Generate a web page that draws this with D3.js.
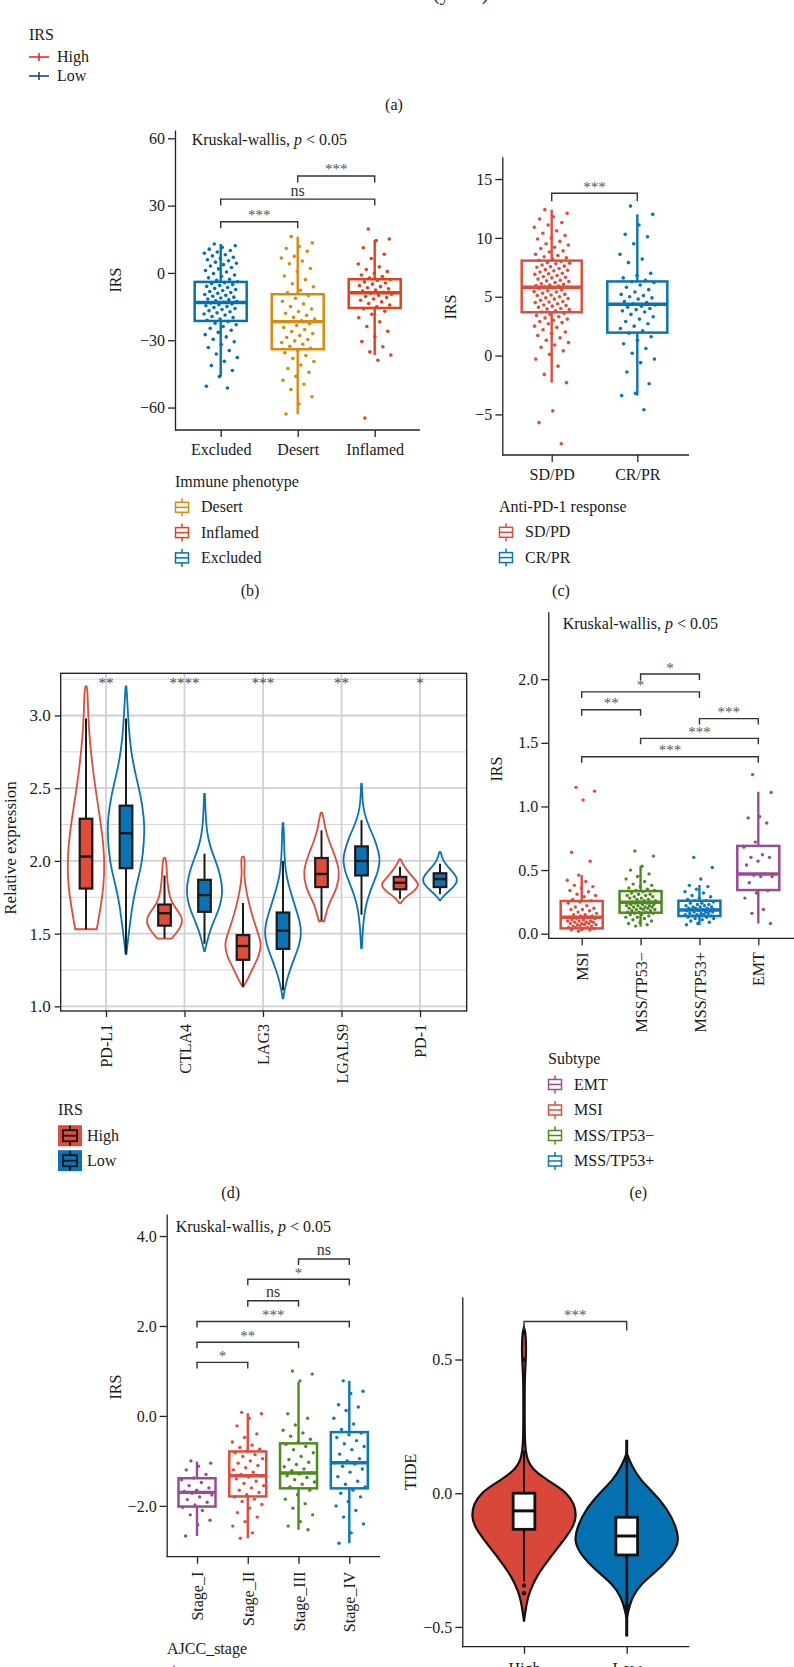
<!DOCTYPE html>
<html><head><meta charset="utf-8">
<script src="https://cdn.jsdelivr.net/npm/d3@7"></script>
<style>
html,body{margin:0;padding:0;background:#fff;}
svg{display:block;}
</style></head><body>
<svg id="fig" width="794" height="1667"></svg>
<script>
// ================= DATA =================
// (a) survival legend
const survGroups = ["High", "Low"];

// (b) immune phenotype
const phenoCats = ["Excluded", "Desert", "Inflamed"];
const phenoLegend = ["Desert", "Inflamed", "Excluded"];
const phenoTicks = [-60, -30, 0, 30, 60];
// [lower whisker, q1, median, q3, upper whisker]
const phenoBox = [[-46.2, -21.4, -13.2, -4.0, 12.9], [-62.9, -34.0, -21.7, -9.5, 16.2], [-36.6, -15.6, -8.8, -2.8, 14.7]];
const phenoExcluded = [12.9,12.1,11.4,10.6,10.0,9.3,8.8,8.1,7.6,7.0,6.5,5.9,5.4,4.8,4.3,3.7,3.1,2.4,1.8,1.1,0.4,-0.3,-0.9,-1.6,-2.2,-2.8,-3.3,-3.9,-4.3,-4.7,-5.2,-5.6,-6.0,-6.5,-6.9,-7.4,-7.8,-8.3,-8.7,-9.1,-9.6,-10.0,-10.4,-10.8,-11.2,-11.6,-12.0,-12.4,-12.8,-13.1,-13.4,-13.8,-14.2,-14.6,-15.0,-15.4,-15.9,-16.3,-16.8,-17.3,-17.8,-18.3,-18.8,-19.4,-19.9,-20.5,-21.1,-21.7,-22.4,-23.1,-23.9,-24.7,-25.6,-26.5,-27.5,-28.5,-29.6,-30.7,-31.9,-33.2,-34.6,-36.1,-37.7,-39.4,-41.3,-43.5,-46.2,-50.5,-51.3];
const phenoDesert = [16.2,13.4,11.8,10.9,9.7,7.4,6.6,5.3,4.1,2.0,0.6,-1.4,-3.0,-4.8,-6.2,-7.7,-8.9,-10.1,-11.3,-12.6,-13.8,-15.0,-16.1,-17.2,-18.0,-18.9,-19.8,-20.6,-21.3,-21.9,-22.6,-23.4,-24.3,-25.2,-26.1,-27.0,-27.9,-28.8,-29.7,-30.3,-31.0,-31.8,-32.7,-33.6,-34.5,-35.6,-36.8,-38.1,-39.5,-41.0,-42.6,-44.3,-46.1,-47.8,-49.6,-52.0,-55.2,-58.4,-62.9];
const phenoInflamed = [19.6,15.1,14.4,11.2,8.3,6.4,4.0,2.7,1.5,0.6,-0.2,-0.9,-1.6,-2.3,-2.9,-3.4,-4.0,-4.5,-5.0,-5.6,-6.1,-6.6,-7.1,-7.6,-8.1,-8.6,-9.0,-9.5,-10.0,-10.5,-11.0,-11.6,-12.2,-12.9,-13.6,-14.3,-15.1,-16.0,-17.1,-18.4,-20.0,-21.8,-23.9,-26.0,-28.3,-30.6,-32.9,-35.2,-36.6,-38.9,-64.7];
const phenoTests = [["Excluded", "Desert", "***", 22.8], ["Excluded", "Inflamed", "ns", 32.9], ["Desert", "Inflamed", "***", 43.2]];

// (c) anti-PD-1 response
const respCats = ["SD/PD", "CR/PR"];
const respTicks = [-5, 0, 5, 10, 15];
const respBox = [[-2.3, 3.68, 5.8, 8.07, 12.4], [-3.4, 1.95, 4.36, 6.3, 12.0]];
const respSDPD = [12.4,12.1,11.8,11.6,11.3,11.1,10.9,10.6,10.4,10.2,10.0,9.9,9.7,9.5,9.4,9.2,9.1,8.9,8.8,8.6,8.5,8.4,8.3,8.2,8.1,8.0,7.9,7.85,7.8,7.7,7.6,7.55,7.5,7.4,7.3,7.25,7.2,7.1,7.0,6.95,6.9,6.8,6.7,6.65,6.6,6.5,6.4,6.35,6.3,6.2,6.1,6.05,6.0,5.95,5.9,5.85,5.8,5.75,5.7,5.6,5.5,5.45,5.4,5.3,5.2,5.15,5.1,5.0,4.9,4.85,4.8,4.7,4.6,4.55,4.5,4.4,4.3,4.25,4.2,4.1,4.0,3.95,3.9,3.8,3.7,3.6,3.5,3.4,3.3,3.2,3.1,3.0,2.9,2.8,2.7,2.5,2.4,2.2,2.0,1.9,1.7,1.5,1.3,1.1,0.9,0.7,0.4,0.1,-0.3,-0.9,-1.6,-2.3,-4.7,-5.7,-7.5];
const respCRPR = [12.7,12.0,11.1,10.3,10.1,9.5,8.6,8.2,7.9,7.0,6.8,6.6,6.4,6.3,6.2,6.0,5.8,5.6,5.4,5.2,5.1,5.0,4.9,4.8,4.6,4.5,4.4,4.3,4.2,4.1,4.0,3.9,3.8,3.7,3.5,3.3,3.1,2.9,2.7,2.5,2.3,2.1,1.9,1.6,1.3,1.0,0.6,0.2,-0.3,-0.6,-1.4,-2.4,-3.2,-3.4,-4.6];
const respTests = [["SD/PD", "CR/PR", "***", 13.8]];

// (d) checkpoint expression
const expCats = ["PD-L1", "CTLA4", "LAG3", "LGALS9", "PD-1"];
const expTicks = [1.0, 1.5, 2.0, 2.5, 3.0];
const expMinor = [1.25, 1.75, 2.25, 2.75, 3.25];
const expSig = ["**", "****", "***", "**", "*"];
// violin outlines: [value, relative half-width]
const expViolinHigh = [
  [[3.2,0.03],[3.17,0.08],[3.05,0.11],[2.92,0.15],[2.77,0.25],[2.62,0.38],[2.49,0.52],[2.26,0.8],[2.1,0.95],[1.97,1.0],[1.82,0.95],[1.69,0.8],[1.58,0.65],[1.53,0.58]],
  [[2.02,0.03],[2.0,0.1],[1.9,0.13],[1.8,0.2],[1.72,0.35],[1.66,0.7],[1.6,1.0],[1.55,0.9],[1.5,0.62],[1.465,0.38]],
  [[2.03,0.03],[2.02,0.08],[1.98,0.1],[1.93,0.06],[1.85,0.1],[1.73,0.27],[1.6,0.55],[1.5,0.82],[1.43,1.0],[1.35,0.88],[1.28,0.6],[1.2,0.3],[1.15,0.1],[1.135,0.02]],
  [[2.33,0.04],[2.28,0.14],[2.22,0.2],[2.12,0.45],[2.03,0.75],[1.92,1.0],[1.82,0.85],[1.74,0.55],[1.68,0.33],[1.62,0.22],[1.585,0.14]],
  [[2.01,0.04],[1.98,0.15],[1.94,0.35],[1.89,0.68],[1.85,0.95],[1.835,1.0],[1.8,0.85],[1.77,0.5],[1.74,0.22],[1.71,0.04]]
];
const expViolinLow = [
  [[3.2,0.02],[3.15,0.05],[2.9,0.15],[2.75,0.28],[2.6,0.5],[2.45,0.8],[2.3,0.97],[2.2,1.0],[2.05,0.92],[1.95,0.8],[1.8,0.5],[1.68,0.33],[1.57,0.22],[1.45,0.1],[1.36,0.02]],
  [[2.46,0.02],[2.35,0.05],[2.2,0.12],[2.1,0.3],[2.0,0.6],[1.9,0.87],[1.78,1.0],[1.68,0.82],[1.6,0.55],[1.52,0.3],[1.45,0.15],[1.38,0.02]],
  [[2.26,0.02],[2.2,0.05],[2.05,0.07],[1.93,0.14],[1.85,0.27],[1.75,0.5],[1.66,0.72],[1.58,0.92],[1.5,1.0],[1.42,0.88],[1.34,0.64],[1.25,0.38],[1.18,0.2],[1.1,0.07],[1.055,0.02]],
  [[2.53,0.02],[2.4,0.06],[2.33,0.15],[2.25,0.35],[2.15,0.72],[2.05,0.95],[2.0,1.0],[1.92,0.88],[1.85,0.65],[1.75,0.35],[1.66,0.18],[1.55,0.08],[1.45,0.04],[1.4,0.02]],
  [[2.06,0.04],[2.02,0.12],[1.98,0.28],[1.93,0.64],[1.875,1.0],[1.83,0.8],[1.8,0.55],[1.77,0.28],[1.74,0.08],[1.73,0.02]]
];
const expBoxHigh = [[1.53,1.81,2.03,2.29,2.98],[1.47,1.555,1.64,1.70,1.9],[1.135,1.32,1.415,1.49,1.71],[1.59,1.82,1.91,2.02,2.21],[1.74,1.805,1.85,1.89,1.96]];
const expBoxLow = [[1.36,1.95,2.19,2.38,2.98],[1.43,1.65,1.765,1.87,2.05],[1.11,1.395,1.52,1.645,2.0],[1.63,1.9,2.0,2.1,2.28],[1.77,1.82,1.875,1.915,1.98]];

// (e) molecular subtype
const subCats = ["MSI", "MSS/TP53\u2212", "MSS/TP53+", "EMT"];
const subLegend = ["EMT", "MSI", "MSS/TP53\u2212", "MSS/TP53+"];
const subTicks = [0, 0.5, 1.0, 1.5, 2.0];
const subBox = [[0.02,0.042,0.129,0.257,0.46],[0.055,0.165,0.247,0.335,0.532],[0.068,0.139,0.186,0.259,0.383],[0.08,0.343,0.469,0.69,1.115]];
const subMSI = [1.15,1.12,1.05,0.64,0.57,0.46,0.42,0.41,0.38,0.37,0.36,0.34,0.33,0.31,0.30,0.29,0.27,0.26,0.25,0.24,0.22,0.21,0.20,0.19,0.19,0.18,0.17,0.16,0.15,0.15,0.14,0.14,0.13,0.13,0.12,0.12,0.11,0.11,0.10,0.10,0.10,0.09,0.09,0.09,0.08,0.08,0.08,0.07,0.07,0.07,0.06,0.06,0.06,0.05,0.05,0.05,0.04,0.04,0.03,0.03,0.02];
const subTP53neg = [0.65,0.61,0.53,0.50,0.47,0.45,0.43,0.41,0.39,0.38,0.37,0.36,0.35,0.34,0.34,0.33,0.32,0.31,0.31,0.30,0.30,0.29,0.29,0.28,0.28,0.27,0.27,0.26,0.26,0.25,0.25,0.25,0.24,0.24,0.24,0.23,0.23,0.23,0.22,0.22,0.22,0.21,0.21,0.21,0.20,0.20,0.20,0.19,0.19,0.19,0.18,0.18,0.17,0.17,0.17,0.16,0.16,0.15,0.15,0.14,0.13,0.13,0.12,0.11,0.10,0.09,0.08,0.07,0.06];
const subTP53pos = [0.60,0.52,0.43,0.38,0.37,0.35,0.33,0.32,0.30,0.29,0.28,0.27,0.26,0.26,0.25,0.24,0.24,0.23,0.23,0.22,0.22,0.21,0.21,0.21,0.20,0.20,0.20,0.19,0.19,0.19,0.18,0.18,0.18,0.17,0.17,0.17,0.16,0.16,0.16,0.15,0.15,0.15,0.14,0.14,0.14,0.13,0.13,0.12,0.12,0.11,0.10,0.09,0.08,0.07];
const subEMT = [1.25,1.11,0.92,0.91,0.87,0.72,0.68,0.62,0.60,0.60,0.57,0.54,0.47,0.46,0.45,0.45,0.40,0.34,0.32,0.28,0.19,0.16,0.08];
const subTests = [["MSS/TP53\u2212","MSS/TP53+","*",2.04],["MSI","MSS/TP53+","*",1.90],["MSI","MSS/TP53\u2212","**",1.76],["MSS/TP53+","EMT","***",1.69],["MSS/TP53\u2212","EMT","***",1.535],["MSI","EMT","***",1.39]];

// (f) AJCC stage
const stageCats = ["Stage_I", "Stage_II", "Stage_III", "Stage_IV"];
const stageTicks = [-2, 0, 2, 4];
const stageBox = [[-2.67,-2.015,-1.70,-1.385,-1.015],[-2.72,-1.79,-1.33,-0.79,0.06],[-2.53,-1.61,-1.27,-0.61,0.76],[-2.83,-1.61,-1.04,-0.36,0.78]];
const stageI = [-1.0,-1.05,-1.12,-1.2,-1.3,-1.38,-1.42,-1.48,-1.55,-1.6,-1.65,-1.68,-1.7,-1.72,-1.76,-1.8,-1.86,-1.92,-1.98,-2.03,-2.1,-2.2,-2.32,-2.42,-2.67];
const stageII = [0.08,0.05,-0.05,-0.22,-0.4,-0.48,-0.58,-0.65,-0.7,-0.74,-0.78,-0.82,-0.86,-0.9,-0.95,-1.0,-1.05,-1.1,-1.15,-1.2,-1.25,-1.3,-1.33,-1.36,-1.4,-1.45,-1.5,-1.55,-1.6,-1.65,-1.7,-1.75,-1.8,-1.85,-1.9,-1.97,-2.05,-2.15,-2.25,-2.35,-2.45,-2.6,-2.72];
const stageIII = [1.0,0.93,0.78,0.05,-0.05,-0.2,-0.32,-0.38,-0.45,-0.52,-0.58,-0.63,-0.68,-0.75,-0.82,-0.9,-0.97,-1.03,-1.08,-1.13,-1.18,-1.22,-1.26,-1.29,-1.33,-1.37,-1.42,-1.47,-1.52,-1.58,-1.65,-1.75,-1.85,-1.95,-2.05,-2.2,-2.35,-2.45,-2.53];
const stageIV = [0.78,0.55,0.5,0.25,0.2,0.12,-0.05,-0.18,-0.3,-0.38,-0.42,-0.48,-0.55,-0.62,-0.68,-0.75,-0.85,-0.95,-1.0,-1.04,-1.07,-1.12,-1.18,-1.25,-1.35,-1.45,-1.52,-1.58,-1.65,-1.72,-1.8,-1.9,-2.0,-2.1,-2.25,-2.4,-2.6,-2.83];
const stageTests = [["Stage_III","Stage_IV","ns",3.49],["Stage_II","Stage_IV","*",3.04],["Stage_II","Stage_III","ns",2.56],["Stage_I","Stage_IV","***",2.10],["Stage_I","Stage_III","**",1.64],["Stage_I","Stage_II","*",1.19]];

// (g) TIDE
const tideCats = ["High", "Low"];
const tideTicks = [-0.5, 0.0, 0.5];
const tideViolinHigh = [[0.62,0],[0.6,0.03],[0.55,0.04],[0.5,0.035],[0.45,0.02],[0.4,0.012],[0.3,0.012],[0.2,0.015],[0.16,0.03],[0.12,0.07],[0.09,0.17],[0.06,0.36],[0.03,0.6],[0.0,0.82],[-0.04,0.96],[-0.087,1.0],[-0.13,0.93],[-0.19,0.7],[-0.25,0.46],[-0.31,0.24],[-0.37,0.1],[-0.42,0.04],[-0.48,0]];
const tideViolinLow = [[0.15,0],[0.1,0.1],[0.05,0.26],[0.0,0.52],[-0.06,0.78],[-0.125,0.94],[-0.175,1.0],[-0.225,0.9],[-0.29,0.58],[-0.34,0.26],[-0.39,0.1],[-0.44,0.03],[-0.47,0]];
const tideBox = [[-0.33,-0.135,-0.066,0.0,0.16],[-0.536,-0.231,-0.16,-0.09,0.2]];
const tideOutHigh = [0.6, 0.5, -0.345, -0.374];
const tideOutLow = [-0.42];
const tideTests = [["High", "Low", "***", 0.642]];

// ================= DRAWING =================
const SERIF = '"Liberation Serif","Times New Roman",serif';
const INK = "#1a1a1a";
const svg = d3.select("#fig");

function txt(x, y, s, size, anchor, fill) {
  return svg.append("text").attr("x", x).attr("y", y)
    .attr("font-family", SERIF).attr("font-size", size || 16)
    .attr("fill", fill || INK).attr("text-anchor", anchor || "start").text(s);
}
function yTitle(x, y, s, size) {
  svg.append("text").attr("transform", `translate(${x},${y}) rotate(-90)`)
    .attr("text-anchor", "middle").attr("dominant-baseline", "central")
    .attr("font-family", SERIF).attr("font-size", size || 16).attr("fill", INK).text(s);
}
function kruskal(x, y) {
  const t = svg.append("text").attr("x", x).attr("y", y)
    .attr("font-family", SERIF).attr("font-size", 16).attr("fill", INK);
  t.append("tspan").text("Kruskal-wallis, ");
  t.append("tspan").attr("font-style", "italic").text("p");
  t.append("tspan").text(" < 0.05");
}
function styleAxis(sel, fs) {
  sel.selectAll("path,line").attr("stroke", "#222").attr("stroke-width", 1.3);
  sel.selectAll("text").attr("font-family", SERIF).attr("font-size", fs).attr("fill", INK);
}
function jitter(i, w) { // deterministic horizontal spread of points
  return (((i * 0.61803398875 + 0.31) % 1) - 0.5) * w;
}
function brackets(x, y, list, leg) {
  list.forEach(([a, b, lab, v]) => {
    const x1 = x(a), x2 = x(b), yy = y(v);
    svg.append("path").attr("d", `M${x1},${yy + leg}V${yy}H${x2}V${yy + leg}`)
      .attr("fill", "none").attr("stroke", "#333").attr("stroke-width", 1.4);
    const star = lab.indexOf("*") >= 0;
    txt((x1 + x2) / 2, star ? yy - 1.5 : yy - 3.5, lab, star ? 15 : 16, "middle", star ? "#555" : "#333");
  });
}

function jitterPanel(o) {
  const y = d3.scaleLinear().domain(o.yDomain).range([o.yBottom, o.yTop]);
  const x = d3.scalePoint().domain(o.cats).range(o.xRange);
  const gy = svg.append("g").attr("transform", `translate(${o.xLeft},0)`)
    .call(d3.axisLeft(y).tickValues(o.yTicks).tickFormat(o.fmt).tickSize(7).tickSizeOuter(0).tickPadding(3));
  styleAxis(gy, 16);
  const gx = svg.append("g").attr("transform", `translate(0,${o.yBottom})`)
    .call(d3.axisBottom(x).tickSize(7).tickPadding(o.xPad));
  gx.select(".domain").remove();
  styleAxis(gx, 16);
  svg.append("line").attr("x1", o.xLeft).attr("x2", o.xRight).attr("y1", o.yBottom).attr("y2", o.yBottom)
    .attr("stroke", "#222").attr("stroke-width", 1.3);
  if (o.rotate) {
    gx.selectAll(".tick text").attr("transform", "rotate(-90)").attr("text-anchor", "end")
      .attr("x", -(7 + o.xPad)).attr("y", 0).attr("dy", "0.35em");
  }
  o.cats.forEach((c, i) => {
    const [lo, q1, md, q3, hi] = o.box[i];
    const cx = x(c), col = o.colors[i], w = o.boxW;
    const g = svg.append("g");
    g.append("line").attr("x1", cx).attr("x2", cx).attr("y1", y(hi)).attr("y2", y(q3))
      .attr("stroke", col).attr("stroke-width", 2.4);
    g.append("line").attr("x1", cx).attr("x2", cx).attr("y1", y(q1)).attr("y2", y(lo))
      .attr("stroke", col).attr("stroke-width", 2.4);
    g.append("rect").attr("x", cx - w / 2).attr("y", y(q3)).attr("width", w).attr("height", y(q1) - y(q3))
      .attr("fill", "none").attr("stroke", col).attr("stroke-width", 2.5);
    g.append("line").attr("x1", cx - w / 2).attr("x2", cx + w / 2).attr("y1", y(md)).attr("y2", y(md))
      .attr("stroke", col).attr("stroke-width", 3.4);
    g.selectAll("circle").data(o.points[i]).join("circle")
      .attr("cx", (d, j) => cx + jitter(j, o.jit)).attr("cy", d => y(d))
      .attr("r", o.r).attr("fill", col);
  });
  brackets(x, y, o.tests, o.leg);
  yTitle(o.ylabX, o.ylabY, "IRS", 16);
  if (o.kw) kruskal(o.kw[0], o.kw[1]);
}

function boxLegend(x0, yT, title, items, colors, step) {
  txt(x0, yT + 5, title, 16);
  items.forEach((s, i) => {
    const cy = yT + step * (i + 1), col = colors[i];
    const g = svg.append("g").attr("stroke", col).attr("stroke-width", 1.5);
    g.append("line").attr("x1", x0 + 7).attr("x2", x0 + 7).attr("y1", cy - 9).attr("y2", cy - 5);
    g.append("line").attr("x1", x0 + 7).attr("x2", x0 + 7).attr("y1", cy + 5).attr("y2", cy + 9);
    g.append("rect").attr("x", x0 + 0.5).attr("y", cy - 5).attr("width", 13).attr("height", 10).attr("fill", "#fff");
    g.append("line").attr("x1", x0 + 0.5).attr("x2", x0 + 13.5).attr("y1", cy).attr("y2", cy);
    txt(x0 + 26, cy + 5, s, 16);
  });
}

// ---------- (a) remnant ----------
txt(433, 0, "(years)", 20);
txt(29, 40, "IRS", 16);
const survColors = ["#FF2020", "#2C3E8C"];
survGroups.forEach((s, i) => {
  const cy = 57 + 19 * i;
  svg.append("line").attr("x1", 29).attr("x2", 49).attr("y1", cy).attr("y2", cy).attr("stroke", survColors[i]).attr("stroke-width", 1.6);
  svg.append("line").attr("x1", 39).attr("x2", 39).attr("y1", cy - 4).attr("y2", cy + 4).attr("stroke", survColors[i]).attr("stroke-width", 1.6);
  txt(57, cy + 5, s, 16);
});
txt(394, 110, "(a)", 16, "middle");

// ---------- (b) ----------
const phenoColors = ["#0072B5", "#DA8A0C", "#E2411B"];
jitterPanel({
  xLeft: 175, xRight: 420, yTop: 130, yBottom: 430, yDomain: [-70, 63.7], yTicks: phenoTicks,
  fmt: d3.format("d"), cats: phenoCats, xRange: [220.7, 374.7], boxW: 52, jit: 34, r: 1.8,
  box: phenoBox, points: [phenoExcluded, phenoDesert, phenoInflamed], colors: phenoColors,
  tests: phenoTests, leg: 6.5, xPad: 7, rotate: false, ylabX: 115, ylabY: 280, kw: [191.7, 145]
});
boxLegend(175, 482, "Immune phenotype", phenoLegend, ["#DA8A0C", "#E2411B", "#0072B5"], 25.3);
txt(250, 596, "(b)", 16, "middle");

// ---------- (c) ----------
const respColors = ["#E04D3B", "#0A74B6"];
jitterPanel({
  xLeft: 502.3, xRight: 689, yTop: 156.7, yBottom: 455, yDomain: [-8.45, 16.9], yTicks: respTicks,
  fmt: d3.format("d"), cats: respCats, xRange: [551.7, 637.3], boxW: 60, jit: 36, r: 1.8,
  box: respBox, points: [respSDPD, respCRPR], colors: respColors,
  tests: respTests, leg: 8, xPad: 7, rotate: false, ylabX: 450, ylabY: 307, kw: null
});
boxLegend(499, 507, "Anti-PD-1 response", respCats, respColors, 25.3);
txt(561, 596, "(c)", 16, "middle");

// ---------- (d) ----------
(function () {
  const L = 60.7, R = 466.7, T = 673.3, B = 1011;
  const y = d3.scaleLinear().domain([0.968, 3.29]).range([B, T]);
  const x = d3.scalePoint().domain(expCats).range([106, 420]);
  const dodge = 20, hw = 18.5, bw = 12.6;
  const grid = svg.append("g");
  expMinor.forEach(v => grid.append("line").attr("x1", L).attr("x2", R).attr("y1", y(v)).attr("y2", y(v))
    .attr("stroke", "#d6d6de").attr("stroke-width", 1));
  expTicks.forEach(v => grid.append("line").attr("x1", L).attr("x2", R).attr("y1", y(v)).attr("y2", y(v))
    .attr("stroke", "#cfd0d8").attr("stroke-width", 1.8));
  expCats.forEach(c => grid.append("line").attr("x1", x(c)).attr("x2", x(c)).attr("y1", T).attr("y2", B)
    .attr("stroke", "#cfd0d8").attr("stroke-width", 1.8));
  const gy = svg.append("g").attr("transform", `translate(${L},0)`)
    .call(d3.axisLeft(y).tickValues(expTicks).tickFormat(d3.format(".1f")).tickSize(6).tickSizeOuter(0).tickPadding(4));
  gy.select(".domain").remove();
  styleAxis(gy, 17);
  const gx = svg.append("g").attr("transform", `translate(0,${B})`)
    .call(d3.axisBottom(x).tickSize(6).tickPadding(7));
  gx.select(".domain").remove();
  styleAxis(gx, 16);
  gx.selectAll(".tick text").attr("transform", "rotate(-90)").attr("text-anchor", "end")
    .attr("x", -13).attr("y", 0).attr("dy", "0.35em");
  const cols = ["#E04B3A", "#0A73B6"];
  expCats.forEach((c, i) => {
    [[expViolinHigh[i], expBoxHigh[i], -dodge, cols[0]], [expViolinLow[i], expBoxLow[i], dodge, cols[1]]].forEach(([vio, bx, off, col]) => {
      const cx = x(c) + off;
      const area = d3.area().curve(d3.curveBasis).y(d => y(d[0]))
        .x0(d => cx - d[1] * hw).x1(d => cx + d[1] * hw);
      svg.append("path").attr("d", area(vio)).attr("fill", "none").attr("stroke", col).attr("stroke-width", 1.8);
      const [lo, q1, md, q3, hi] = bx;
      svg.append("line").attr("x1", cx).attr("x2", cx).attr("y1", y(hi)).attr("y2", y(lo))
        .attr("stroke", "#1a1a1a").attr("stroke-width", 2);
      svg.append("rect").attr("x", cx - bw / 2).attr("y", y(q3)).attr("width", bw).attr("height", y(q1) - y(q3))
        .attr("fill", col).attr("stroke", "#1a1a1a").attr("stroke-width", 2.2);
      svg.append("line").attr("x1", cx - bw / 2).attr("x2", cx + bw / 2).attr("y1", y(md)).attr("y2", y(md))
        .attr("stroke", "#1a1a1a").attr("stroke-width", 2.4);
    });
    txt(x(c), 688, expSig[i], 15, "middle", "#444");
  });
  svg.append("rect").attr("x", L).attr("y", T).attr("width", R - L).attr("height", B - T)
    .attr("fill", "none").attr("stroke", "#1a1a1a").attr("stroke-width", 1.3);
  yTitle(10, 848, "Relative expression", 17);
  // legend
  txt(58, 1115, "IRS", 16);
  survGroups.forEach((s, i) => {
    const cy = 1135.7 + 25 * i, col = cols[i];
    svg.append("rect").attr("x", 58).attr("y", cy - 10.5).attr("width", 24).attr("height", 21).attr("fill", col);
    const g = svg.append("g").attr("stroke", "#111").attr("stroke-width", 1.8);
    g.append("line").attr("x1", 70).attr("x2", 70).attr("y1", cy - 10).attr("y2", cy - 5.5);
    g.append("line").attr("x1", 70).attr("x2", 70).attr("y1", cy + 5.5).attr("y2", cy + 10);
    g.append("rect").attr("x", 63).attr("y", cy - 5.5).attr("width", 14).attr("height", 11).attr("fill", col);
    g.append("line").attr("x1", 63).attr("x2", 77).attr("y1", cy).attr("y2", cy);
    txt(87, cy + 5, s, 16);
  });
  txt(230.7, 1198, "(d)", 16, "middle");
})();

// ---------- (e) ----------
const subColors = ["#E04B3A", "#4F8A1C", "#0B77BD", "#9A4B97"];
jitterPanel({
  xLeft: 548.3, xRight: 794, yTop: 611.7, yBottom: 938.3, yDomain: [-0.036, 2.53], yTicks: subTicks,
  fmt: d3.format(".1f"), cats: subCats, xRange: [581.7, 758.3], boxW: 42, jit: 30, r: 1.7,
  box: subBox, points: [subMSI, subTP53neg, subTP53pos, subEMT], colors: subColors,
  tests: subTests, leg: 6, xPad: 7, rotate: true, ylabX: 496, ylabY: 769, kw: [562.7, 629]
});
boxLegend(548, 1059, "Subtype", subLegend, ["#9A4B97", "#E04B3A", "#4F8A1C", "#0B77BD"], 25.5);
txt(638.3, 1198, "(e)", 16, "middle");

// ---------- (f) ----------
const stageColors = ["#9A4B97", "#E04B3A", "#4F8A1C", "#0B77BD"];
jitterPanel({
  xLeft: 166.7, xRight: 380, yTop: 1214, yBottom: 1556.7, yDomain: [-3.13, 4.49], yTicks: stageTicks,
  fmt: d3.format(".1f"), cats: stageCats, xRange: [197, 349.3], boxW: 37, jit: 32, r: 1.7,
  box: stageBox, points: [stageI, stageII, stageIII, stageIV], colors: stageColors,
  tests: stageTests, leg: 6, xPad: 8, rotate: true, ylabX: 115, ylabY: 1387, kw: [175.7, 1231.7]
});
boxLegend(167, 1649, "AJCC_stage", stageCats, stageColors, 25.5);

// ---------- (g) ----------
(function () {
  const L = 462.3, R = 689.3, T = 1296.7, B = 1646.7;
  const y = d3.scaleLinear().domain([-0.574, 0.735]).range([B, T]);
  const x = d3.scalePoint().domain(tideCats).range([524, 626.7]);
  const hw = 52.5, bw = 21.7;
  const gy = svg.append("g").attr("transform", `translate(${L},0)`)
    .call(d3.axisLeft(y).tickValues(tideTicks).tickFormat(d3.format(".1f")).tickSize(7).tickSizeOuter(0).tickPadding(3));
  styleAxis(gy, 16);
  const gx = svg.append("g").attr("transform", `translate(0,${B})`)
    .call(d3.axisBottom(x).tickSize(7).tickPadding(9));
  gx.select(".domain").remove();
  styleAxis(gx, 16);
  svg.append("line").attr("x1", L).attr("x2", R).attr("y1", B).attr("y2", B).attr("stroke", "#222").attr("stroke-width", 1.3);
  const fills = ["#D9473A", "#0671B1"];
  [[tideViolinHigh, tideBox[0], tideOutHigh, 2], [tideViolinLow, tideBox[1], tideOutLow, 3]].forEach(([vio, bx, outs, ww], i) => {
    const cx = x(tideCats[i]);
    const area = d3.area().curve(d3.curveBasis).y(d => y(d[0]))
      .x0(d => cx - d[1] * hw).x1(d => cx + d[1] * hw);
    svg.append("path").attr("d", area(vio)).attr("fill", fills[i]).attr("stroke", "#111").attr("stroke-width", 2.2);
    const [lo, q1, md, q3, hi] = bx;
    svg.append("line").attr("x1", cx).attr("x2", cx).attr("y1", y(hi)).attr("y2", y(lo))
      .attr("stroke", "#111").attr("stroke-width", ww);
    svg.append("rect").attr("x", cx - bw / 2).attr("y", y(q3)).attr("width", bw).attr("height", y(q1) - y(q3))
      .attr("fill", "#fff").attr("stroke", "#111").attr("stroke-width", 2.8);
    svg.append("line").attr("x1", cx - bw / 2).attr("x2", cx + bw / 2).attr("y1", y(md)).attr("y2", y(md))
      .attr("stroke", "#111").attr("stroke-width", 3);
    svg.selectAll(null).data(outs).join("circle").attr("cx", cx).attr("cy", d => y(d)).attr("r", 2.2).attr("fill", "#111");
  });
  brackets(x, y, tideTests, 9);
  yTitle(410, 1472, "TIDE", 16);
})();
</script>
</body></html>
